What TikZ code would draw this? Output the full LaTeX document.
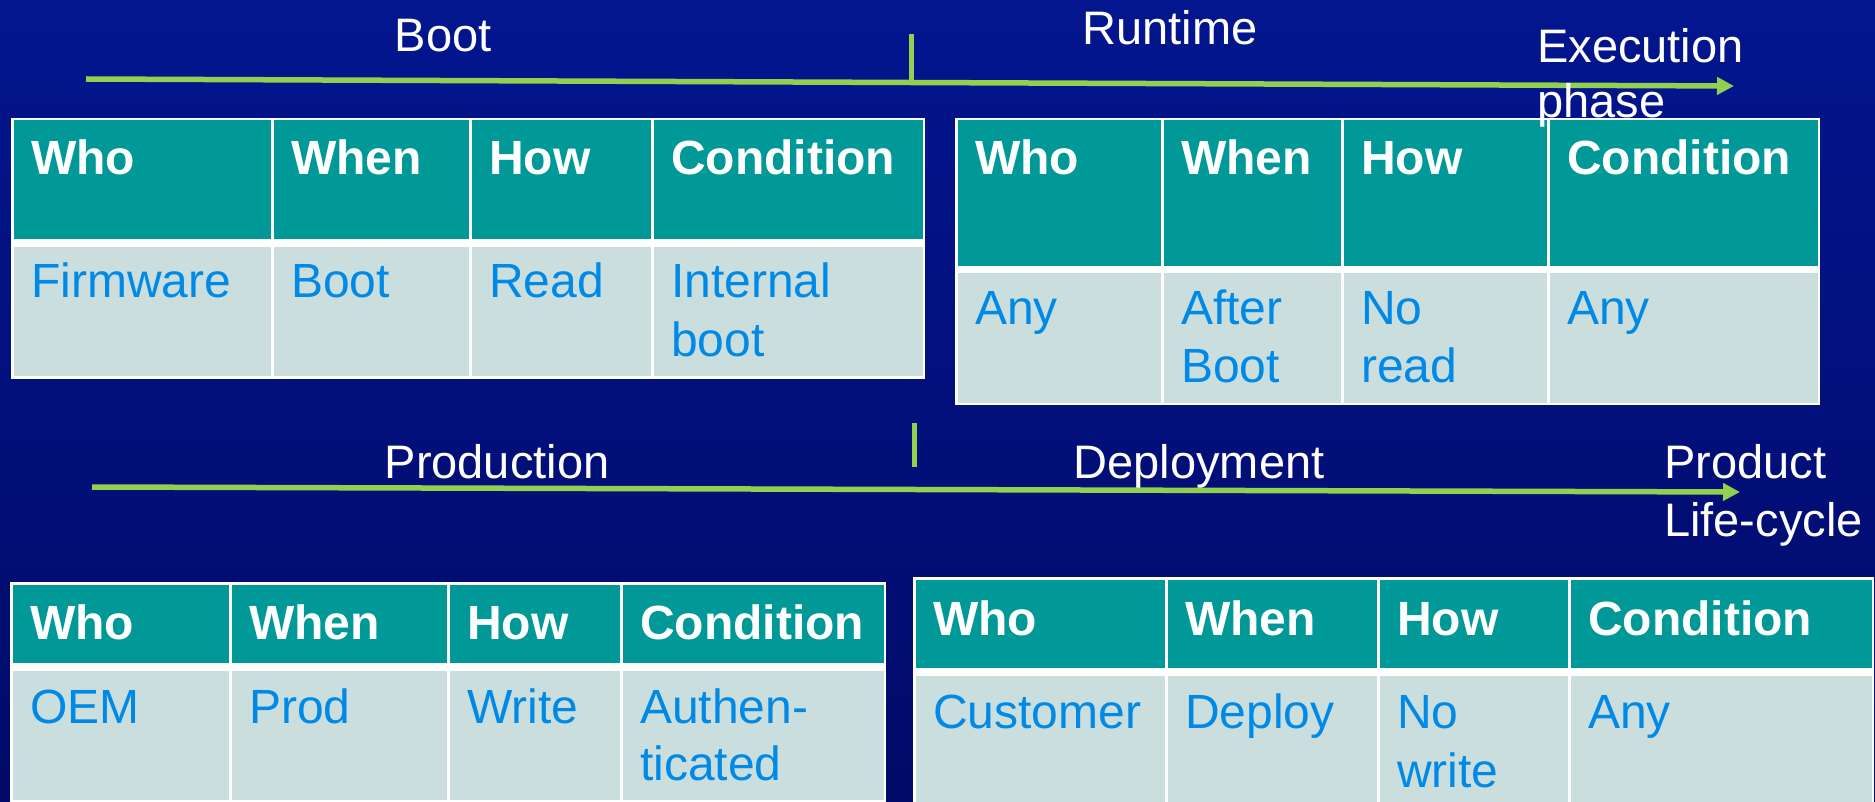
\documentclass[tikz,border=0pt]{standalone}
\usepackage{fontspec}
\setmainfont{Liberation Sans}
\usetikzlibrary{arrows.meta}

\definecolor{bgtop}{RGB}{3,22,143}
\definecolor{bgbot}{RGB}{1,10,104}
\definecolor{headfill}{RGB}{0,153,152}
\definecolor{bodyfill}{RGB}{202,222,221}
\definecolor{celltext}{RGB}{0,137,230}
\definecolor{phasegreen}{RGB}{146,208,80}

\tikzset{
  headtext/.style={anchor=base west, inner sep=0pt, text=white,
    font=\fontsize{48}{58}\selectfont\bfseries},
  bodytext/.style={anchor=base west, inner sep=0pt, text=celltext,
    font=\fontsize{48}{58}\selectfont},
  axislabel/.style={anchor=base, inner sep=0pt, text=white,
    font=\fontsize{47}{58}\selectfont},
  axisend/.style={anchor=base west, inner sep=0pt, text=white,
    font=\fontsize{47}{58}\selectfont},
  timeline/.style={draw=phasegreen, line width=5.5pt,
    -{Triangle[length=17pt,width=17pt]}},
  splitmark/.style={draw=phasegreen, line width=5pt},
}

% #1: column pairs left/right, #2: top, #3: header bottom,
% #4: body top, #5: bottom, #6: outer left, #7: outer right
\newcommand{\gridtable}[7]{%
  \fill[white] (#6-1,#2-1) rectangle (#7+1,#5+1);
  \foreach \xl/\xr in {#1} {
    \fill[headfill] (\xl+1.5,#2+1.5) rectangle (\xr-1.5,#3);
    \fill[bodyfill] (\xl+1.5,#4) rectangle (\xr-1.5,#5-1.5);
  }%
}

\begin{document}
\begin{tikzpicture}[x=1pt,y=-1pt]
  \useasboundingbox (0,0) rectangle (1875,802);
  \shade[top color=bgtop, middle color=bgtop, bottom color=bgbot]
    (0,0) rectangle (1875,802);

  \begin{scope}
    \clip (0,0) rectangle (1875,802);

    % ---------- Boot / Runtime table (upper left) ----------
    \gridtable{12/272,272/470,470/652,652/924}{119}{239}{247}{378}{12}{924}
    \node[headtext] (a-who)  at (31,175)  {Who};
    \node[headtext] (a-when) at (291,175) {When};
    \node[headtext] (a-how)  at (489,175) {How};
    \node[headtext] (a-cond) at (671,175) {Condition};
    \node[bodytext] (a-who-v)  at (31,298)  {Firmware};
    \node[bodytext] (a-when-v) at (291,298) {Boot};
    \node[bodytext] (a-how-v)  at (489,298) {Read};
    \node[bodytext] (a-cond-v) at (671,298) {Internal};
    \node[bodytext] (a-cond-v2) at (671,357) {boot};

    % ---------- Runtime table (upper right) ----------
    \gridtable{956/1162,1162/1342,1342/1548,1548/1819}{119}{266}{273}{404}{956}{1819}
    \node[headtext] (b-who)  at (975,175)  {Who};
    \node[headtext] (b-when) at (1181,175) {When};
    \node[headtext] (b-how)  at (1361,175) {How};
    \node[headtext] (b-cond) at (1567,175) {Condition};
    \node[bodytext] (b-who-v)  at (975,325)  {Any};
    \node[bodytext] (b-when-v) at (1181,325) {After};
    \node[bodytext] (b-when-v2) at (1181,383) {Boot};
    \node[bodytext] (b-how-v)  at (1361,325) {No};
    \node[bodytext] (b-how-v2) at (1361,383) {read};
    \node[bodytext] (b-cond-v) at (1567,325) {Any};

    % ---------- Production table (lower left) ----------
    \gridtable{11/230,230/448,448/621,621/885}{583}{663}{671}{801}{11}{885}
    \node[headtext] (c-who)  at (30,639)  {Who};
    \node[headtext] (c-when) at (249,639) {When};
    \node[headtext] (c-how)  at (467,639) {How};
    \node[headtext] (c-cond) at (640,639) {Condition};
    \node[bodytext] (c-who-v)  at (30,723)  {OEM};
    \node[bodytext] (c-when-v) at (249,723) {Prod};
    \node[bodytext] (c-how-v)  at (467,723) {Write};
    \node[bodytext] (c-cond-v) at (640,723) {Authen-};
    \node[bodytext] (c-cond-v2) at (640,780) {ticated};

    % ---------- Deployment table (lower right) ----------
    \gridtable{914/1166,1166/1378,1378/1569,1569/1873}{578}{668}{676}{812}{914}{1873}
    \node[headtext] (d-who)  at (933,635)  {Who};
    \node[headtext] (d-when) at (1185,635) {When};
    \node[headtext] (d-how)  at (1397,635) {How};
    \node[headtext] (d-cond) at (1588,635) {Condition};
    \node[bodytext] (d-who-v)  at (933,728)  {Customer};
    \node[bodytext] (d-when-v) at (1185,728) {Deploy};
    \node[bodytext] (d-how-v)  at (1397,728) {No};
    \node[bodytext] (d-how-v2) at (1397,787) {write};
    \node[bodytext] (d-cond-v) at (1588,728) {Any};
  \end{scope}

  % ---------- Execution-phase axis ----------
  \coordinate (exec-start) at (86,79);
  \coordinate (exec-end)   at (1734,86);
  \coordinate (exec-split-top) at (911,34);
  \coordinate (exec-split-bot) at (911,80);
  \draw[timeline] (exec-start) -- (exec-end);
  \draw[splitmark] (exec-split-top) -- (exec-split-bot);
  \node[axislabel] (lbl-boot)    at (443,52)  {Boot};
  \node[axislabel] (lbl-runtime) at (1170,45) {Runtime};
  \node[axisend] (lbl-exec)  at (1537,63)  {Execution};
  \node[axisend] (lbl-phase) at (1537,118) {phase};

  % ---------- Product life-cycle axis ----------
  \coordinate (life-start) at (92,487);
  \coordinate (life-end)   at (1740,492);
  \coordinate (life-split-top) at (914,423);
  \coordinate (life-split-bot) at (914,467);
  \draw[timeline] (life-start) -- (life-end);
  \draw[splitmark] (life-split-top) -- (life-split-bot);
  \node[axislabel] (lbl-prod)   at (497,478)  {Production};
  \node[axislabel] (lbl-deploy) at (1199,478) {Deployment};
  \node[axisend] (lbl-product) at (1664,478) {Product};
  \node[axisend] (lbl-cycle)   at (1664,536) {Life-cycle};
\end{tikzpicture}
\end{document}
